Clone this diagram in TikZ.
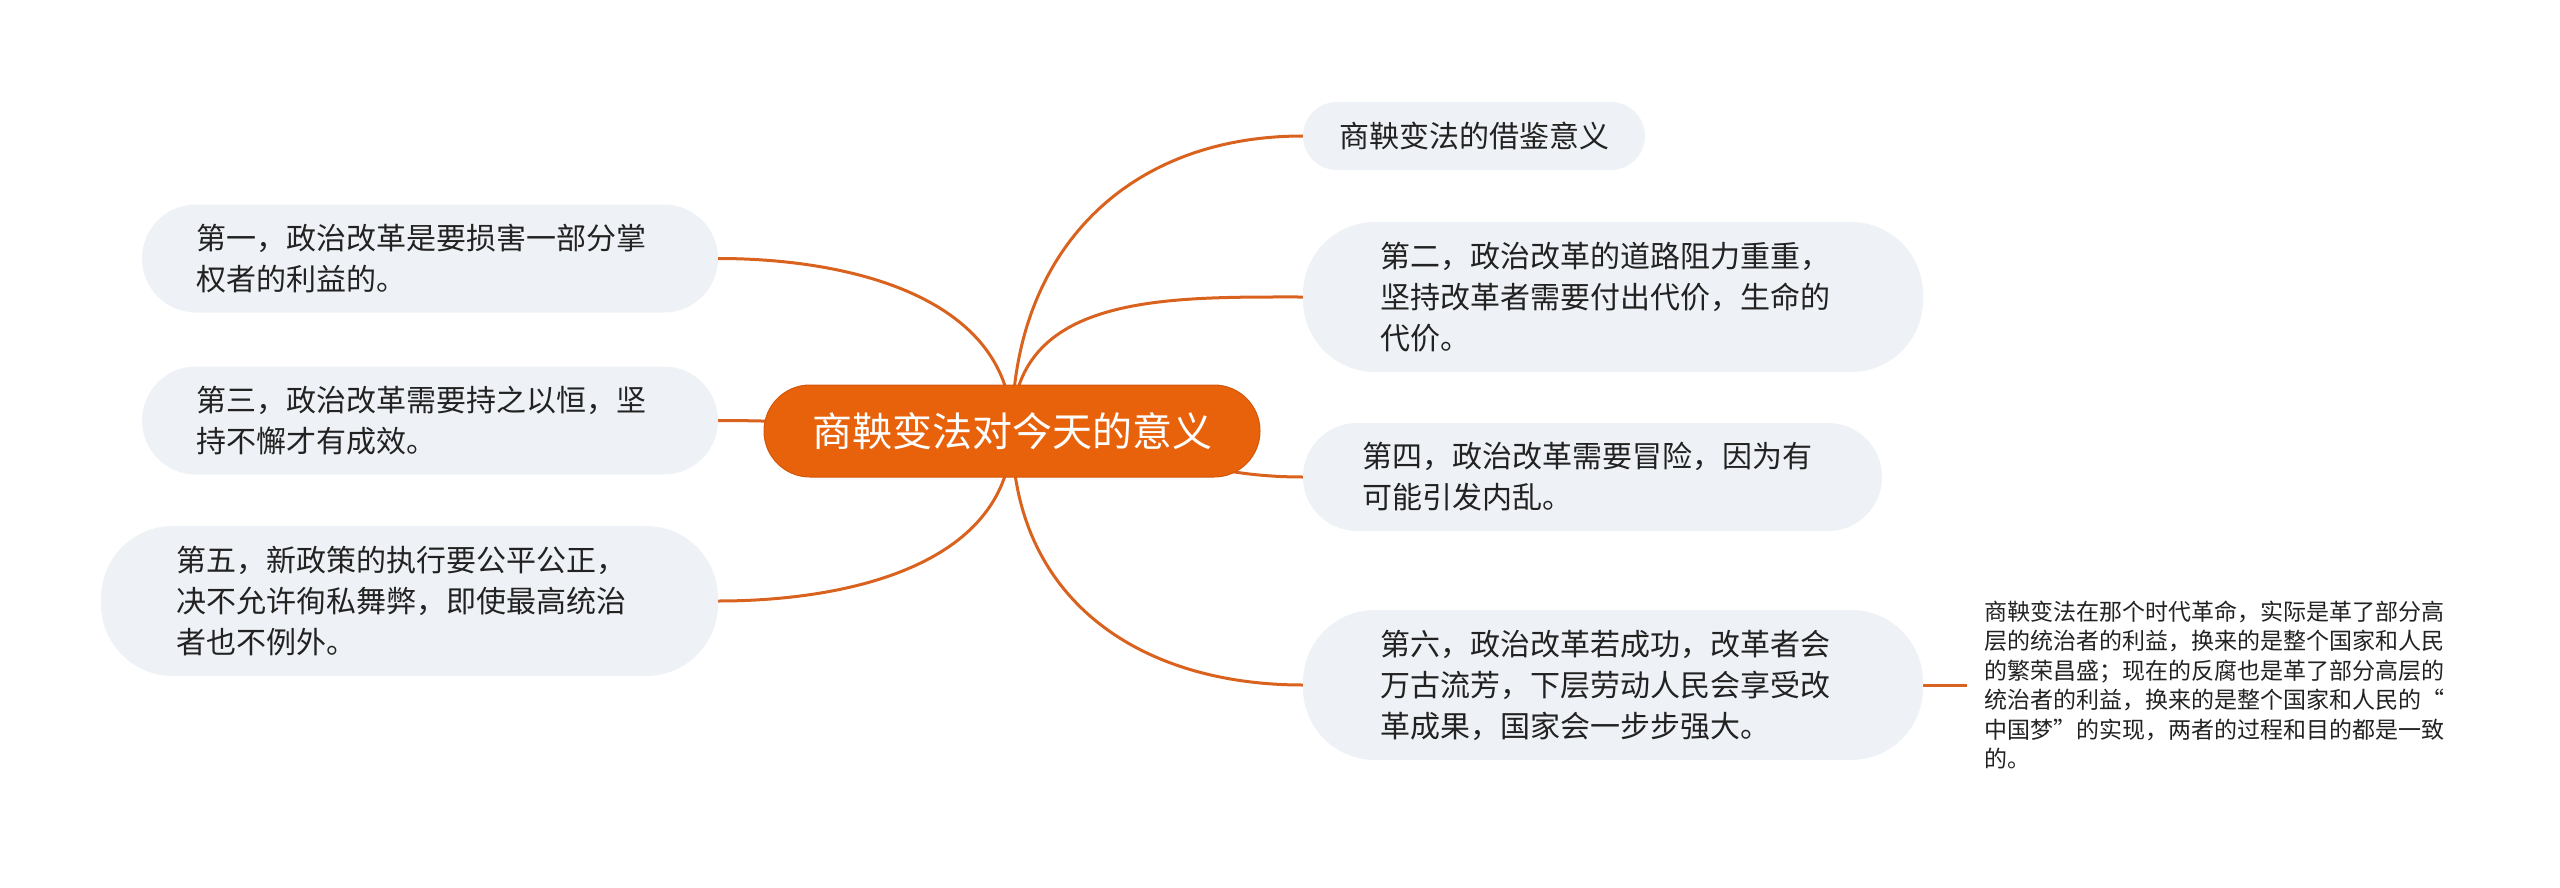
\documentclass[tikz,border=0pt]{standalone}
\usepackage{fontspec}
\setmainfont{Noto Sans CJK SC}
\usetikzlibrary{positioning,backgrounds}
\definecolor{rootorange}{HTML}{E8620C}
\definecolor{branchline}{HTML}{D9621E}
\definecolor{leafgray}{HTML}{EEF1F5}
\definecolor{textdark}{HTML}{222222}

\begin{document}
\begin{tikzpicture}[x=1pt,y=-1pt,
    rootnode/.style={fill=rootorange, draw=rootorange!90!black, line width=1pt,
        rounded corners=46pt, minimum width=496pt, minimum height=92pt,
        text=white, font=\fontsize{40}{48}\selectfont},
    leaf/.style={fill=leafgray, align=left, inner ysep=0pt, text=textdark,
        font=\fontsize{30}{41}\selectfont},
    twoline/.style={leaf, rounded corners=54pt, minimum height=108pt},
    threeline/.style={leaf, rounded corners=72pt, minimum height=150pt},
    branch/.style={branchline, line width=3pt},
    notetext/.style={align=left, text=textdark, inner xsep=17pt, inner ysep=0pt,
        font=\fontsize{23}{29.5}\selectfont}]
        \useasboundingbox (0,0) rectangle (2560,888);

        % Central topic
        \node[rootnode] (root) at (1012,431) {商鞅变法对今天的意义};

        % Right side topics
        \node[leaf, rounded corners=34pt, minimum height=68pt, minimum width=342pt] (r0) at (1474,136) {商鞅变法的借鉴意义};
        \node[threeline, text width=466pt, inner xsep=77pt] (r2) at (1613,297)
            {第二，政治改革的道路阻力重重，\\坚持改革者需要付出代价，生命的\\代价。};
        \node[twoline, text width=461pt, inner xsep=59pt] (r4) at (1592.5,477)
            {第四，政治改革需要冒险，因为有\\可能引发内乱。};
        \node[threeline, text width=466pt, inner xsep=77pt] (r6) at (1613,685)
            {第六，政治改革若成功，改革者会\\万古流芳，下层劳动人民会享受改\\革成果，国家会一步步强大。};

        % Left side topics
        \node[twoline, text width=468pt, inner xsep=54pt] (l1) at (430,258.5)
            {第一，政治改革是要损害一部分掌\\权者的利益的。};
        \node[twoline, text width=468pt, inner xsep=54pt] (l3) at (430,420.5)
            {第三，政治改革需要持之以恒，坚\\持不懈才有成效。};
        \node[threeline, text width=467pt, inner xsep=75pt] (l5) at (409.5,601)
            {第五，新政策的执行要公平公正，\\决不允许徇私舞弊，即使最高统治\\者也不例外。};

        % Note on the last topic
        \node[notetext, anchor=west] (note) at (1967,685)
            {商鞅变法在那个时代革命，实际是革了部分高\\层的统治者的利益，换来的是整个国家和人民\\的繁荣昌盛；现在的反腐也是革了部分高层的\\统治者的利益，换来的是整个国家和人民的“\\中国梦”的实现，两者的过程和目的都是一致\\的。};

        % Draw branches behind the topics
        \begin{scope}[on background layer]
            \foreach \name/\bend in {l1/90, l3/180, l5/-90} {
                \draw[branch] (root.center) to[out=\bend,in=0] (\name.east);
            }
            \foreach \name/\bend in {r0/90, r2/90, r4/0, r6/-90} {
                \draw[branch] (root.center) to[out=\bend,in=180,looseness=1.1] (\name.west);
            }
            \draw[branch] (r6.east) -- (note.west);
        \end{scope}
    \end{tikzpicture}
\end{document}
